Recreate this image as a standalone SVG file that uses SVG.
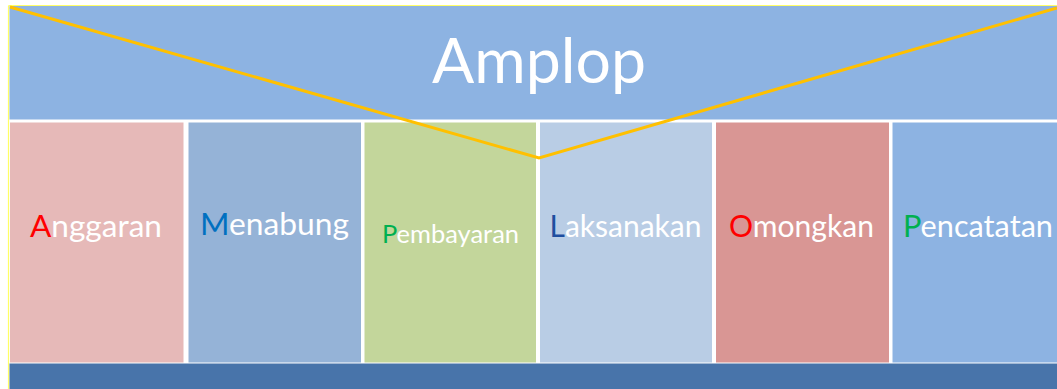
<svg xmlns="http://www.w3.org/2000/svg" width="1057" height="389" viewBox="0 0 1057 389">
<style>
.lbl{font-family:Lato,"Liberation Sans",Arial,sans-serif;font-size:31px;fill:#FFFFFF}
.title{font-family:Lato,"Liberation Sans",Arial,sans-serif;font-size:62px;fill:#FFFFFF}
.col{stroke:none}
</style>
<rect x="0" y="0" width="1057" height="389" fill="#FFFFFF"/>
<g id="frame">
<line x1="8.5" y1="5.5" x2="8.5" y2="389" stroke="#FFFF66" stroke-width="1.2"/>
<line x1="8.5" y1="5.5" x2="1057" y2="5.5" stroke="#FFFF66" stroke-width="1.2"/>
</g>
<g id="banner">
<rect x="9.5" y="6" width="1048" height="113.5" fill="#8DB3E2"/>
<text class="title" x="432" y="83" textLength="214" lengthAdjust="spacingAndGlyphs">Amplop</text>
</g>
<g id="bottom-bar">
<rect x="9.5" y="363.5" width="1048" height="26" fill="#4874AA"/>
</g>
<g id="anggaran">
<rect class="col" x="10" y="122.5" width="173.5" height="240" fill="#E6B9B8"/>
<text class="lbl" x="30" y="237" textLength="132" lengthAdjust="spacingAndGlyphs"><tspan fill="#FF0000">A</tspan>nggaran</text>
</g>
<g id="menabung">
<rect class="col" x="188.5" y="122.5" width="172.5" height="240" fill="#95B3D7"/>
<text class="lbl" x="200" y="234.5" textLength="149" lengthAdjust="spacingAndGlyphs"><tspan fill="#0070C0">M</tspan>enabung</text>
</g>
<g id="pembayaran">
<rect class="col" x="364.5" y="122.5" width="171.5" height="240" fill="#C3D69B"/>
<text class="lbl" x="382" y="243" style="font-size:25px" textLength="137" lengthAdjust="spacingAndGlyphs"><tspan fill="#00B050">P</tspan>embayaran</text>
</g>
<g id="laksanakan">
<rect class="col" x="540" y="122.5" width="172" height="240" fill="#B9CDE5"/>
<text class="lbl" x="549.5" y="237" textLength="152" lengthAdjust="spacingAndGlyphs"><tspan fill="#1F4E9F">L</tspan>aksanakan</text>
</g>
<g id="omongkan">
<rect class="col" x="716" y="122.5" width="173" height="240" fill="#D99694"/>
<text class="lbl" x="729" y="237" textLength="145" lengthAdjust="spacingAndGlyphs"><tspan fill="#FF0000">O</tspan>mongkan</text>
</g>
<g id="pencatatan">
<rect class="col" x="892.5" y="122.5" width="165" height="240" fill="#8DB3E2"/>
<text class="lbl" x="903" y="237" textLength="150" lengthAdjust="spacingAndGlyphs"><tspan fill="#00B050">P</tspan>encatatan</text>
</g>
<g id="connectors">
<polyline points="10,7 539,158 1057,8" fill="none" stroke="#FFC000" stroke-width="3" stroke-linejoin="miter"/>
</g>
</svg>
